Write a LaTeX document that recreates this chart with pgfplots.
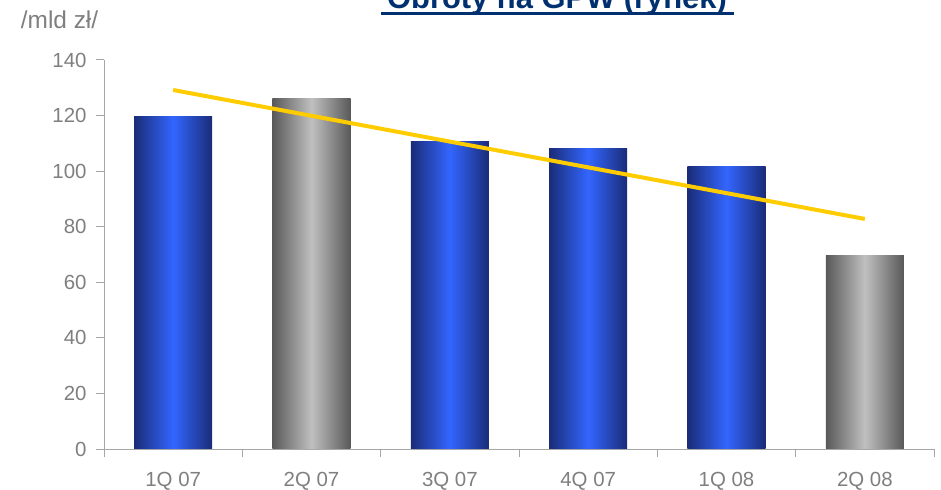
\documentclass[border=0pt]{standalone}
\usepackage{pgfplots}
\pgfplotsset{compat=1.18}
\usepackage{fontspec}
\setmainfont{Liberation Sans}
\definecolor{txtgray}{HTML}{7F7F7F}
\definecolor{axgray}{HTML}{A6A6A6}
\definecolor{navy}{HTML}{1A2C78}
\definecolor{brightblue}{HTML}{3366FF}
\definecolor{dgray}{HTML}{595959}
\definecolor{lgray}{HTML}{C0C0C0}
\definecolor{trend}{HTML}{FFCC00}
\definecolor{titleblue}{HTML}{003070}
\begin{document}
\begin{tikzpicture}
\pgfplotsset{
  bluebar/.style={draw=none, left color=navy, right color=navy, middle color=brightblue},
  graybar/.style={draw=none, left color=dgray, right color=dgray, middle color=lgray},
}
\begin{axis}[
  at={(0,0)}, anchor=south west,
  scale only axis, width=830bp, height=389bp,
  xmin=-0.5, xmax=5.5, ymin=0, ymax=140,
  axis x line*=bottom, axis y line*=left,
  axis line style={axgray, line width=1bp},
  ytick={0,20,...,140},
  xtick={0,...,5}, xticklabels={1Q 07,2Q 07,3Q 07,4Q 07,1Q 08,2Q 08},
  major x tick style={draw=none},
  minor xtick={-0.5,0.5,...,5.5},
  tick align=outside,
  major tick length=8bp, minor tick length=8bp,
  tick style={axgray, line width=1bp},
  ticklabel style={font=\fontsize{20.5}{20.5}\selectfont, text=txtgray},
  xticklabel style={yshift=-12bp},
  yticklabel style={xshift=-6bp},
  /pgf/number format/assume math mode=true,
  ybar, bar shift=0pt, bar width=0.564,
  clip=false,
]
\addplot[bluebar] coordinates {(0,119.5)};
\addplot[graybar] coordinates {(1,126.3)};
\addplot[bluebar] coordinates {(2,110.5)};
\addplot[bluebar] coordinates {(3,108.0)};
\addplot[bluebar] coordinates {(4,101.8)};
\addplot[graybar] coordinates {(5,69.8)};
\addplot[sharp plot, trend, line width=4bp, no marks] coordinates {(0,129.2) (5,82.8)};
\end{axis}
\node[anchor=base west, text=txtgray, font=\fontsize{24.5}{24.5}\selectfont, inner sep=0pt] at (-83.3bp,420bp) {/mld zł/};
\node[anchor=base, text=titleblue, font=\bfseries\fontsize{31}{31}\selectfont, inner sep=0pt] at (453bp,440bp) {Obroty na GPW (rynek)};
\draw[titleblue, line width=3bp] (277bp,435bp) -- (630bp,435bp);
\pgfresetboundingbox
\path[use as bounding box] (-104bp,-41bp) rectangle (837bp,449bp);
\end{tikzpicture}
\end{document}
